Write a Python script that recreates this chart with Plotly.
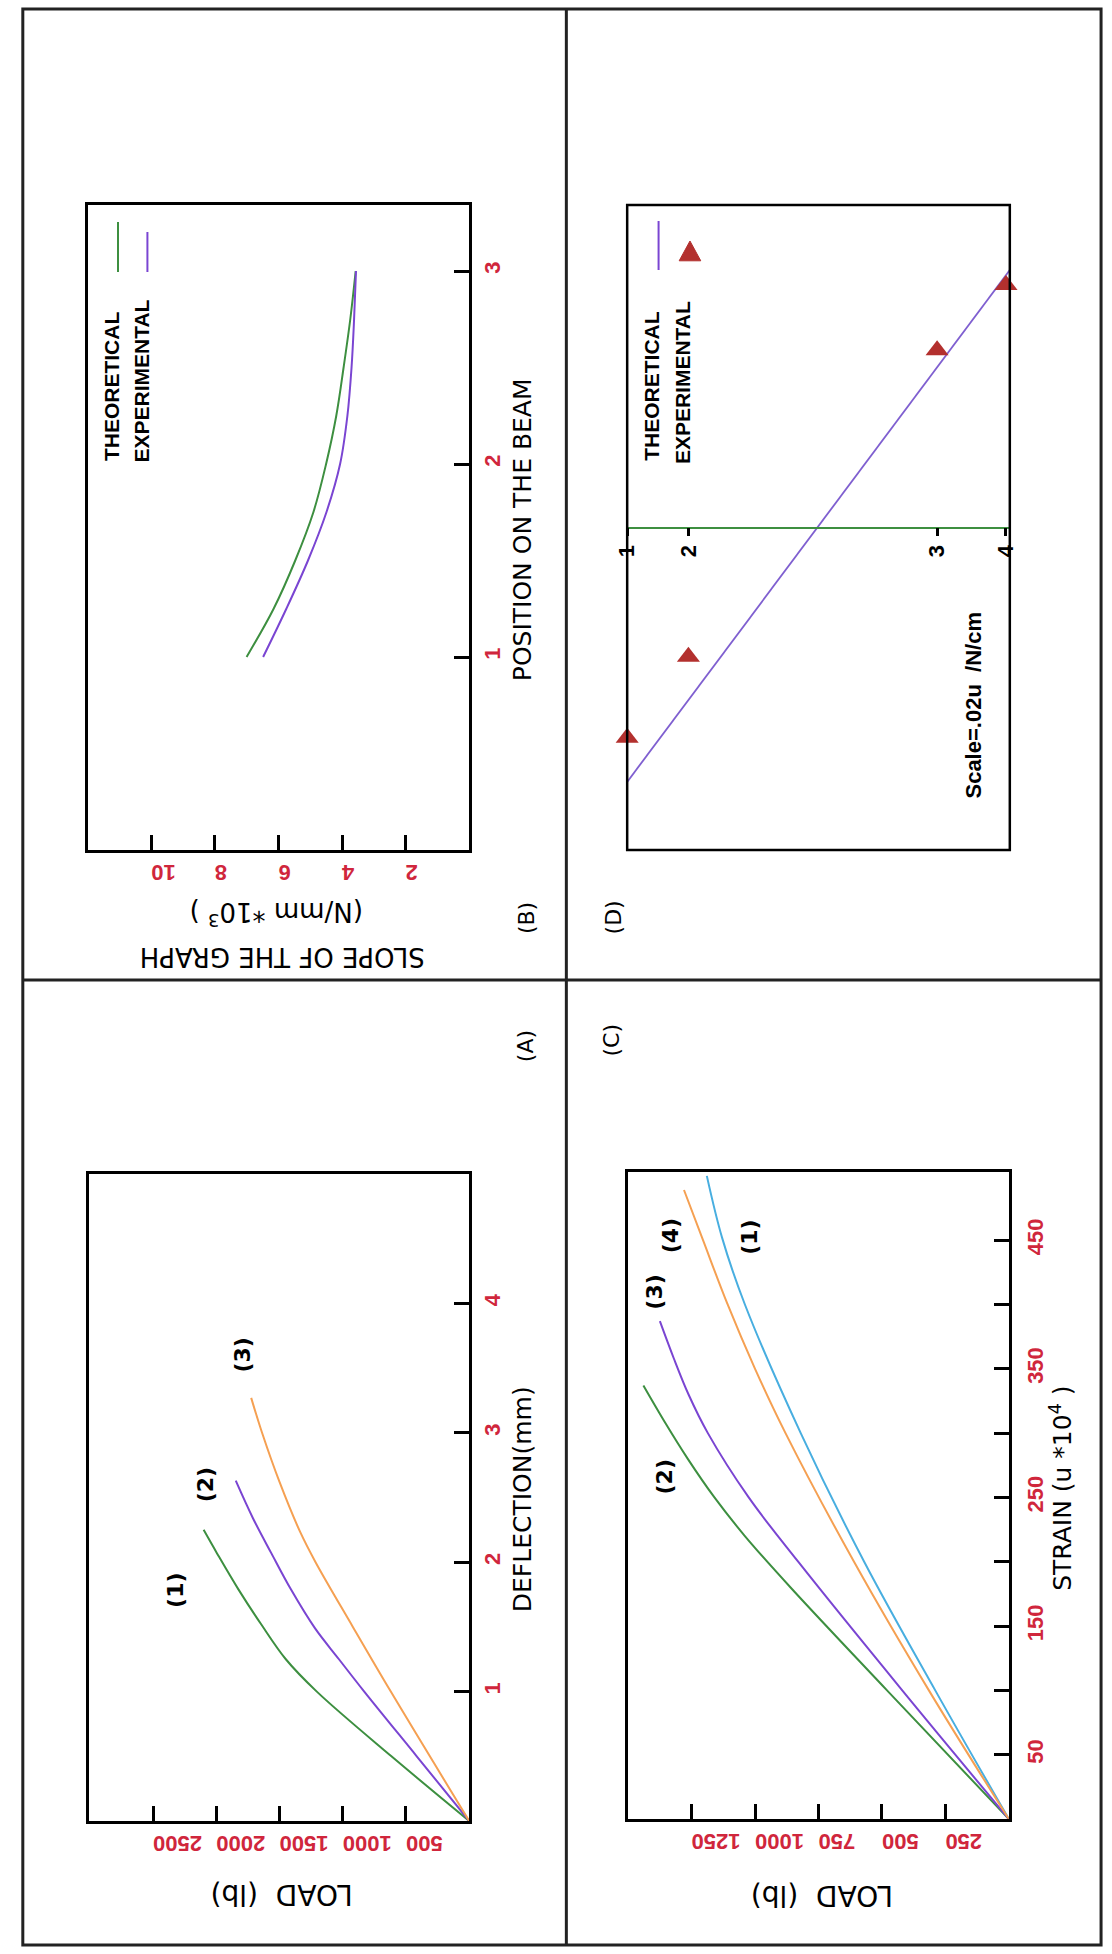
import plotly.graph_objects as go

W, H = 1112, 1954

# ---------------- data ----------------
# Panel (A): load (lb) vs deflection (mm)
a_defl_1 = [0, 0.5, 1.0, 1.25, 1.52, 1.79, 2.07, 2.25]
a_load_1 = [0, 615, 1205, 1450, 1645, 1825, 1995, 2100]
a_defl_2 = [0, 0.5, 1.0, 1.25, 1.49, 1.79, 2.07, 2.34, 2.63]
a_load_2 = [0, 415, 830, 1030, 1220, 1410, 1565, 1710, 1846]
a_defl_3 = [0, 1.0, 1.5, 2.0, 2.23, 2.62, 3.0, 3.27]
a_load_3 = [0, 620, 920, 1215, 1335, 1500, 1638, 1724]
a_load_ticks = [500, 1000, 1500, 2000, 2500]
a_defl_ticks = [1, 2, 3, 4]

# Panel (B): slope of the graph (N/mm*10^3) vs position on the beam
b_pos = [1.0, 1.25, 1.5, 1.75, 2.0, 2.25, 2.5, 2.75, 3.0]
b_theoretical = [7.0, 6.15, 5.47, 4.9, 4.5, 4.18, 3.95, 3.74, 3.57]
b_experimental = [6.48, 5.75, 5.07, 4.49, 4.06, 3.83, 3.70, 3.62, 3.56]
b_slope_ticks = [2, 4, 6, 8, 10]
b_pos_ticks = [1, 2, 3]

# Panel (C): load (lb) vs strain (u*10^4)
c_strain_1 = [0, 100, 200, 300, 400, 452, 500]
c_load_1 = [0, 290, 570, 820, 1040, 1130, 1190]
c_strain_2 = [0, 100, 180, 220, 250, 280, 310, 337]
c_load_2 = [0, 480, 860, 1040, 1160, 1265, 1360, 1440]
c_strain_3 = [0, 100, 200, 250, 300, 330, 358, 387]
c_load_3 = [0, 420, 830, 1025, 1186, 1262, 1320, 1375]
c_strain_4 = [0, 100, 200, 300, 350, 401, 450, 489]
c_load_4 = [0, 315, 610, 880, 1000, 1110, 1205, 1280]
c_load_ticks = [250, 500, 750, 1000, 1250]
c_strain_ticks = [50, 150, 250, 350, 450]
c_strain_minor = [100, 200, 300, 400]

# Panel (D): strain distribution at gauges 1-4
d_gauge_pos = [0, 1.6, 8.1, 9.9]
d_gauge_labels = ["1", "2", "3", "4"]
d_theo_depth = [0, 10]
d_theo_strain = [-2.54, 2.57]
d_exp_strain = [-2.10, -1.29, 1.77, 2.42]

# ---------------- styling ----------------
GREEN = "#3d8f40"
PURPLE = "#7a45d2"
ORANGE = "#f5a052"
CYAN = "#48aee0"
RED = "#d0263c"
TRI = "#b3302e"
FONT = "DejaVu Sans"
TFONT = "Liberation Sans Narrow, Liberation Sans, Arial, sans-serif"


def xd(x0, x1):
    return [x0 / W, x1 / W]


def yd(y_bottom, y_top):
    return [1 - y_bottom / H, 1 - y_top / H]


tick_font = dict(family=TFONT, size=22, color=RED, weight="bold")
box = dict(showline=True, mirror=True, linewidth=2.5, linecolor="black",
           showgrid=False, zeroline=False, ticks="inside", ticklen=15,
           tickwidth=2.5, tickcolor="black", tickfont=tick_font)

fig = go.Figure()

# Panel A traces
for xs, ys, c in [(a_load_1, a_defl_1, GREEN), (a_load_2, a_defl_2, PURPLE), (a_load_3, a_defl_3, ORANGE)]:
    fig.add_trace(go.Scatter(x=xs, y=ys, mode="lines", line=dict(color=c, width=2, shape="spline"),
                             xaxis="x", yaxis="y", hoverinfo="skip"))
# Panel B traces
fig.add_trace(go.Scatter(x=b_theoretical, y=b_pos, mode="lines", line=dict(color=GREEN, width=2, shape="spline"),
                         xaxis="x2", yaxis="y2", hoverinfo="skip"))
fig.add_trace(go.Scatter(x=b_experimental, y=b_pos, mode="lines", line=dict(color=PURPLE, width=2, shape="spline"),
                         xaxis="x2", yaxis="y2", hoverinfo="skip"))
# Panel C traces
for xs, ys, c in [(c_load_1, c_strain_1, CYAN), (c_load_2, c_strain_2, GREEN),
                  (c_load_3, c_strain_3, PURPLE), (c_load_4, c_strain_4, ORANGE)]:
    fig.add_trace(go.Scatter(x=xs, y=ys, mode="lines", line=dict(color=c, width=2, shape="spline"),
                             xaxis="x3", yaxis="y3", hoverinfo="skip"))
# Panel D traces
fig.add_trace(go.Scatter(x=d_theo_depth, y=d_theo_strain, mode="lines", line=dict(color="#7f5fd0", width=1.8),
                         xaxis="x4", yaxis="y4", hoverinfo="skip"))
fig.add_trace(go.Scatter(x=d_gauge_pos, y=d_exp_strain, mode="markers",
                         marker=dict(symbol="triangle-up", size=20, color=TRI),
                         xaxis="x4", yaxis="y4", cliponaxis=False, hoverinfo="skip"))

minor_c = dict(tickvals=c_strain_minor, ticks="inside", ticklen=15, tickwidth=2.5,
               tickcolor="black", showgrid=False)

layout = dict(
    width=W, height=H, margin=dict(l=0, r=0, t=0, b=0),
    paper_bgcolor="white", plot_bgcolor="white", showlegend=False,
    xaxis=dict(box, domain=xd(77, 465), range=[3010, 0], anchor="y", tickvals=a_load_ticks,
               tickangle=180, ticklabelstandoff=8),
    yaxis=dict(box, domain=yd(1821, 1174), range=[0, 5], anchor="x", side="right",
               tickvals=a_defl_ticks, tickangle=-90, ticklabelstandoff=2),
    xaxis2=dict(box, domain=xd(76, 465), range=[12, 0], anchor="y2", tickvals=b_slope_ticks,
                tickangle=180, ticklabelstandoff=8),
    yaxis2=dict(box, domain=yd(850, 205), range=[0, 3.342], anchor="x2", side="right",
                tickvals=b_pos_ticks, tickangle=-90, ticklabelstandoff=2),
    xaxis3=dict(box, domain=xd(627, 1015), range=[1500, 0], anchor="y3", tickvals=c_load_ticks,
                tickangle=180, ticklabelstandoff=8),
    yaxis3=dict(box, domain=yd(1819, 1172), range=[0, 503], anchor="x3", side="right",
                tickvals=c_strain_ticks, minor=minor_c, tickangle=-90, ticklabelstandoff=5),
    xaxis4=dict(domain=xd(626, 1016), range=[0, 10], anchor="free", position=1 - 527.5 / H,
                showline=True, linecolor=GREEN, linewidth=1.6, showgrid=False, zeroline=False,
                ticks="outside", ticklen=8, tickwidth=2.5, tickcolor="black",
                tickvals=d_gauge_pos, ticktext=d_gauge_labels, tickangle=-90,
                tickfont=dict(family=TFONT, size=22, color="black", weight="bold")),
    yaxis4=dict(domain=yd(850, 205), range=[-3.22, 3.22], anchor="x4", showline=False,
                showticklabels=False, ticks="", showgrid=False, zeroline=False),
)
fig.update_layout(**layout)

# ---------------- frame, dividers, legend samples ----------------
shapes = []


def pline(x0, y0, x1, y1, color="#222", width=3):
    shapes.append(dict(type="line", xref="paper", yref="paper", x0=x0 / W, y0=1 - y0 / H,
                       x1=x1 / W, y1=1 - y1 / H, line=dict(color=color, width=width)))


shapes.append(dict(type="rect", xref="paper", yref="paper", x0=10 / W, y0=1 - 1945 / H, x1=1109 / W,
                   y1=1 - 9 / H, line=dict(color="#222", width=3)))
pline(564, 9, 564, 1945)
pline(10, 980, 1109, 980)
# panel D box
shapes.append(dict(type="rect", xref="x4 domain", yref="y4 domain", x0=0, y0=0, x1=1, y1=1,
                   line=dict(color="black", width=2.5)))
# legend samples
pline(107, 222, 107, 272, GREEN, 2)
pline(137, 232, 137, 272, PURPLE, 2)
pline(658, 221, 658, 270, PURPLE, 2)
tx, ty, s = 690, 252, 11
shapes.append(dict(type="path", xref="paper", yref="paper", fillcolor=TRI, line=dict(color=TRI, width=1),
                   path=f"M {tx / W} {1 - (ty - s) / H} L {(tx - s) / W} {1 - (ty + s * 0.8) / H} "
                        f"L {(tx + s) / W} {1 - (ty + s * 0.8) / H} Z"))
fig.update_layout(shapes=shapes)

# ---------------- text ----------------
anns = []


def ann(text, x, y, angle, size=25, color="black", weight="normal", family=FONT):
    anns.append(dict(text=text, x=x / W, y=1 - y / H, xref="paper", yref="paper", showarrow=False,
                     textangle=angle, xanchor="center", yanchor="middle",
                     font=dict(family=family, size=size, color=color, weight=weight)))


# Panel B
ann("(N/mm *10<sup>3</sup> )", 268, 914, 180, size=26)
ann("SLOPE OF THE GRAPH", 274, 957, 180, size=26)
ann("POSITION ON THE BEAM", 519, 530, -90)
ann("THEORETICAL", 100, 386, -90, size=21, family=TFONT, weight="bold")
ann("EXPERIMENTAL", 130, 381, -90, size=21, family=TFONT, weight="bold")
ann("(B)", 523, 918, -90, size=22)
# Panel D
ann("THEORETICAL", 650, 386, -90, size=21, family=TFONT, weight="bold")
ann("EXPERIMENTAL", 683, 383, -90, size=21, family=TFONT, weight="bold")
ann("Scale=.02u  /N/cm", 978, 705, -90, size=22, family=TFONT, weight="bold")
ann("(D)", 612, 917, -90, size=22)
# Panel A
ann("LOAD  (lb)", 274, 1895, 180, size=28)
ann("DEFLECTION(mm)", 519, 1499, -90)
ann("(A)", 522, 1046, -90, size=22)
ann("(1)", 165, 1590, -90, size=22, weight="bold")
ann("(2)", 196, 1485, -90, size=22, weight="bold")
ann("(3)", 233, 1355, -90, size=22, weight="bold")
# Panel C
ann("LOAD  (lb)", 824, 1896, 180, size=28)
ann("STRAIN (u *10<sup>4</sup> )", 1068, 1488, -90)
ann("(C)", 610, 1040, -90, size=22)
ann("(2)", 664, 1477, -90, size=22, weight="bold")
ann("(3)", 653, 1292, -90, size=22, weight="bold")
ann("(4)", 670, 1236, -90, size=22, weight="bold")
ann("(1)", 750, 1237, -90, size=22, weight="bold")
fig.update_layout(annotations=anns)

fig.write_html("out.html")
